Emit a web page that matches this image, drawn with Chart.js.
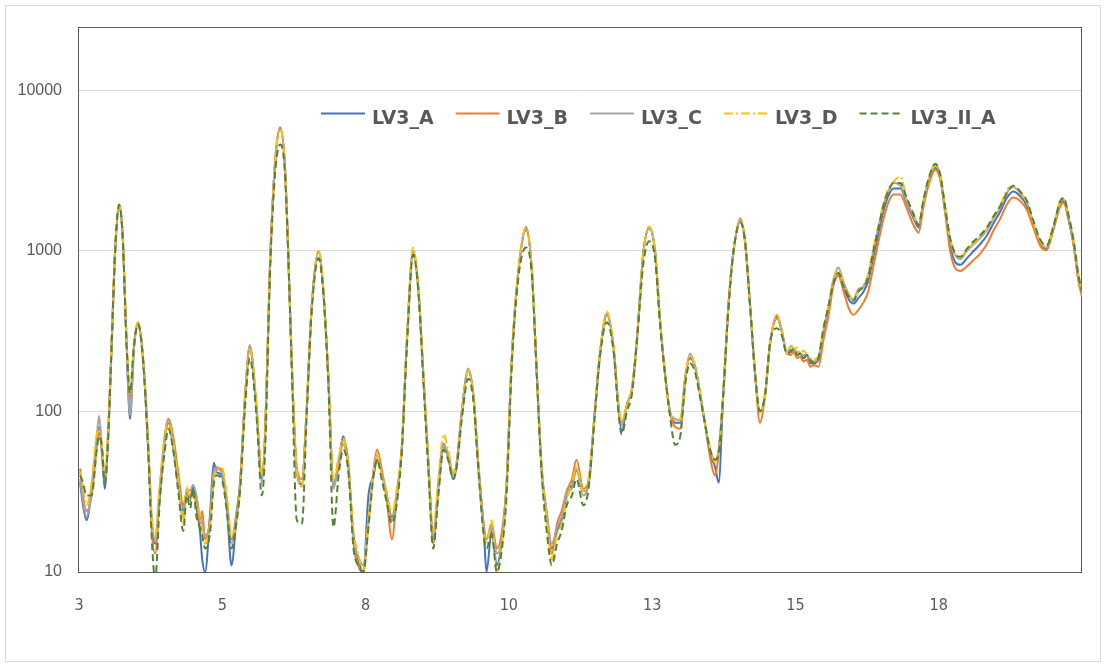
<!DOCTYPE html>
<html>
<head>
<meta charset="utf-8">
<script src="https://cdn.jsdelivr.net/npm/chart.js@4.4.1/dist/chart.umd.min.js"></script>
<style>
  html, body { margin: 0; padding: 0; background: #fff; }
  #frame { position: absolute; left: 5px; top: 5px; width: 1094px; height: 655px; border: 1px solid #d9d9d9; }
  #chart { position: absolute; left: 0; top: 0; }
</style>
</head>
<body>
<div id="frame"></div>
<canvas id="chart" width="1106" height="667"></canvas>
<script>
// 2-theta positions shared by all scans
const xAngle = [
  3.00, 3.05, 3.11, 3.20, 3.29, 3.33, 3.38, 3.43, 3.49, 3.55,
  3.61, 3.68, 3.74, 3.81, 3.87, 3.94, 4.01, 4.10, 4.19, 4.25,
  4.31, 4.39, 4.48, 4.54, 4.63, 4.71, 4.80, 4.86, 4.92, 4.97,
  5.03, 5.09, 5.13, 5.18, 5.27, 5.33, 5.38, 5.47, 5.56, 5.64,
  5.73, 5.79, 5.88, 5.96, 6.08, 6.17, 6.23, 6.31, 6.40, 6.49,
  6.57, 6.63, 6.69, 6.78, 6.87, 6.95, 7.04, 7.16, 7.24, 7.33,
  7.42, 7.51, 7.59, 7.68, 7.77, 7.85, 7.94, 8.03, 8.12, 8.18,
  8.26, 8.35, 8.44, 8.52, 8.61, 8.70, 8.81, 8.90, 8.99, 9.08,
  9.16, 9.25, 9.34, 9.42, 9.51, 9.57, 9.66, 9.77, 9.86, 9.95,
  10.04, 10.09, 10.18, 10.27, 10.36, 10.44, 10.53, 10.65, 10.78, 10.88,
  10.97, 11.05, 11.14, 11.23, 11.32, 11.40, 11.49, 11.58, 11.66, 11.78,
  11.87, 11.98, 12.07, 12.19, 12.31, 12.39, 12.45, 12.54, 12.63, 12.71,
  12.83, 12.93, 13.03, 13.12, 13.21, 13.29, 13.38, 13.47, 13.56, 13.64,
  13.73, 13.82, 13.90, 13.99, 14.08, 14.14, 14.22, 14.31, 14.40, 14.52,
  14.60, 14.69, 14.78, 14.86, 14.95, 15.04, 15.16, 15.24, 15.33, 15.40,
  15.45, 15.51, 15.56, 15.62, 15.68, 15.74, 15.80, 15.88, 15.97, 16.06,
  16.14, 16.23, 16.32, 16.41, 16.49, 16.58, 16.67, 16.75, 16.84, 16.93,
  17.02, 17.10, 17.19, 17.31, 17.42, 17.54, 17.63, 17.71, 17.80, 17.92,
  18.01, 18.09, 18.18, 18.27, 18.36, 18.47, 18.59, 18.70, 18.82, 18.94,
  19.05, 19.17, 19.28, 19.40, 19.52, 19.63, 19.75, 19.86, 19.98, 20.10,
  20.16, 20.24, 20.33, 20.42, 20.48
];

const lv3A = [
  36, 26, 21, 32, 65, 80, 55, 33, 75, 260,
  1000, 1900, 1280, 260, 90, 250, 350, 210, 55, 20,
  15, 30, 68, 85, 58, 35, 24, 32, 28, 34,
  25, 18, 12, 10, 24, 48, 42, 40, 25, 11,
  22, 35, 125, 250, 100, 38, 76, 770, 3500, 5800,
  3500, 1000, 210, 42, 35, 100, 450, 990, 590, 165,
  35, 48, 70, 44, 17, 12, 10, 30, 40, 50,
  42, 30, 22, 30, 58, 270, 1000, 590, 165, 45,
  16, 35, 63, 52, 38, 46, 100, 180, 127, 45,
  19, 10, 18, 11, 16, 35, 210, 770, 1350, 770,
  165, 45, 23, 14, 18, 21, 30, 35, 43, 32,
  35, 100, 230, 400, 245, 110, 75, 110, 140, 270,
  1000, 1380, 1000, 360, 165, 100, 85, 85, 165, 215,
  190, 127, 85, 55, 45, 36, 127, 450, 1000, 1550,
  1150, 450, 165, 100, 127, 270, 390, 320, 230, 240,
  245, 225, 230, 215, 225, 200, 200, 210, 310, 440,
  640, 730, 600, 500, 470, 510, 560, 650, 920, 1300,
  1800, 2200, 2450, 2450, 2000, 1600, 1400, 1950, 2650, 3300,
  2800, 1800, 1080, 850, 820, 900, 1000, 1100, 1250, 1500,
  1750, 2150, 2350, 2200, 1900, 1450, 1120, 1030, 1380, 1950,
  2050, 1600, 1120, 660, 540
];

const lv3B = [
  44, 30, 24, 30, 60, 78, 58, 36, 72, 270,
  1000, 1900, 1300, 280, 120, 260, 360, 210, 60, 18,
  13, 32, 72, 90, 68, 42, 26, 30, 30, 32,
  28, 20, 24, 16, 22, 40, 45, 43, 28, 16,
  24, 36, 130, 255, 105, 40, 78, 770, 3500, 5900,
  3500, 1000, 210, 45, 38, 100, 450, 1000, 590, 165,
  34, 45, 66, 48, 15, 11, 10, 20, 43, 58,
  44, 28, 16, 28, 56, 270, 1000, 590, 165, 45,
  15, 33, 60, 55, 40, 48, 100, 180, 127, 45,
  20, 16, 20, 14, 18, 36, 210, 770, 1400, 770,
  165, 45, 22, 13, 20, 24, 32, 38, 50, 33,
  37, 100, 230, 400, 245, 110, 85, 110, 140, 270,
  1000, 1400, 1000, 360, 165, 100, 80, 78, 165, 220,
  190, 127, 85, 52, 40, 55, 127, 450, 1000, 1550,
  1150, 450, 165, 85, 127, 270, 380, 320, 230, 225,
  235, 215, 220, 205, 210, 190, 195, 190, 280, 400,
  600, 700, 560, 440, 400, 430, 480, 560, 800, 1150,
  1600, 2000, 2250, 2250, 1850, 1450, 1300, 1850, 2550, 3200,
  2750, 1750, 1000, 780, 750, 800, 880, 960, 1100, 1350,
  1580, 1950, 2150, 2050, 1800, 1400, 1080, 1010, 1350, 1900,
  2000, 1600, 1100, 640, 520
];

const lv3C = [
  38, 28, 22, 34, 70, 94, 60, 37, 70, 270,
  980, 1880, 1250, 270, 95, 250, 355, 210, 58, 21,
  16, 34, 70, 88, 60, 36, 22, 33, 32, 35,
  30, 22, 20, 17, 21, 42, 44, 42, 27, 15,
  23, 35, 127, 260, 100, 36, 76, 770, 3500, 5800,
  3500, 1000, 210, 41, 36, 100, 450, 980, 590, 165,
  33, 50, 62, 45, 16, 12.6, 11, 21, 43, 53,
  41, 30, 21, 30, 58, 270, 1000, 590, 165, 45,
  16, 35, 62, 52, 40, 48, 100, 185, 127, 47,
  19, 16, 19, 13, 16, 35, 210, 770, 1420, 770,
  165, 45, 24, 15, 19, 22, 31, 33, 44, 30,
  36, 100, 230, 410, 245, 110, 82, 110, 140, 270,
  1000, 1380, 1000, 360, 165, 100, 90, 88, 165, 230,
  190, 127, 85, 58, 50, 58, 127, 450, 1000, 1600,
  1150, 450, 165, 100, 127, 270, 400, 320, 230, 255,
  245, 235, 230, 225, 225, 210, 205, 215, 320, 460,
  660, 790, 640, 540, 500, 580, 600, 700, 1000, 1420,
  1950, 2350, 2650, 2550, 2050, 1650, 1450, 2000, 2750, 3450,
  2900, 1850, 1150, 940, 890, 1000, 1100, 1200, 1350, 1600,
  1850, 2300, 2500, 2300, 2000, 1500, 1150, 1050, 1400, 2000,
  2100, 1650, 1150, 680, 550
];

const lv3D = [
  42, 34, 26, 36, 72, 75, 62, 40, 80, 280,
  1050, 1950, 1300, 280, 130, 270, 360, 210, 62, 22,
  17, 36, 72, 86, 62, 38, 20, 34, 28, 30,
  26, 23, 18, 15, 20, 38, 43, 45, 30, 17,
  20, 33, 120, 245, 110, 40, 80, 780, 3550, 5700,
  3500, 1000, 210, 44, 34, 100, 450, 1000, 600, 165,
  38, 52, 68, 46, 18, 13, 10, 22, 42, 55,
  40, 32, 23, 32, 60, 280, 1050, 600, 165, 45,
  18, 38, 72, 58, 42, 45, 100, 180, 127, 44,
  18, 15, 21, 10, 15, 34, 210, 780, 1400, 780,
  165, 45, 22, 12, 17, 20, 28, 36, 45, 32,
  38, 100, 230, 420, 245, 110, 88, 110, 140, 270,
  1000, 1420, 1000, 360, 165, 100, 88, 90, 165, 225,
  190, 127, 85, 60, 48, 56, 127, 450, 1000, 1550,
  1150, 450, 165, 100, 127, 270, 400, 320, 230, 260,
  245, 250, 230, 240, 225, 215, 210, 220, 330, 460,
  650, 760, 620, 530, 490, 560, 620, 720, 1050, 1450,
  2000, 2450, 2700, 2900, 2150, 1700, 1450, 2050, 2750, 3400,
  2900, 1900, 1200, 960, 920, 1020, 1120, 1230, 1380, 1650,
  1900, 2400, 2500, 2300, 2000, 1500, 1150, 1060, 1420, 2050,
  2100, 1700, 1180, 700, 570
];

const lv3IIA = [
  40, 36, 30, 30, 58, 70, 60, 36, 70, 260,
  980, 1950, 1250, 260, 130, 260, 350, 200, 55, 16,
  9, 28, 58, 78, 55, 32, 18, 30, 25, 33,
  22, 19, 17, 14, 18, 35, 40, 38, 24, 14,
  21, 32, 110, 215, 90, 30, 60, 680, 3000, 4600,
  3200, 950, 200, 21, 20, 90, 420, 900, 560, 150,
  19, 40, 58, 42, 14, 11, 10, 19, 40, 50,
  38, 27, 20, 26, 55, 250, 950, 560, 150, 40,
  14, 30, 58, 50, 38, 45, 90, 160, 118, 42,
  17, 14, 17, 10, 14, 30, 190, 700, 1050, 720,
  160, 42, 18, 11, 15, 18, 26, 30, 38, 26,
  33, 95, 220, 360, 230, 100, 72, 100, 130, 260,
  850, 1150, 900, 340, 165, 95, 62, 70, 150, 200,
  175, 120, 85, 58, 50, 55, 127, 430, 1000, 1500,
  1150, 450, 165, 100, 127, 270, 330, 300, 230, 235,
  245, 225, 230, 215, 225, 210, 200, 215, 330, 460,
  620, 730, 600, 520, 490, 560, 600, 690, 1000, 1400,
  1950, 2350, 2650, 2650, 2150, 1700, 1450, 2050, 2800, 3500,
  2950, 1900, 1200, 960, 920, 1030, 1150, 1250, 1400, 1650,
  1900, 2300, 2550, 2350, 2050, 1550, 1180, 1080, 1420, 2050,
  2150, 1700, 1180, 700, 560
];

const seriesNames = ["LV3_A", "LV3_B", "LV3_C", "LV3_D", "LV3_II_A"];
const seriesColors = ["#4472C4", "#ED7D31", "#A5A5A5", "#FFC000", "#548235"];
const seriesDash = [[], [], [], [9, 3, 2, 3], [7, 4]];

// axis ticks
const xTickValues = [2.98, 5.48, 7.98, 10.48, 12.98, 15.48, 17.98];
const xTickLabels = ["3", "5", "8", "10", "13", "15", "18"];
const yTickValues = [10, 100, 1000, 10000];

const series = [lv3A, lv3B, lv3C, lv3D, lv3IIA];

const datasets = series.map((vals, i) => ({
  label: seriesNames[i],
  data: vals.map((v, j) => ({ x: xAngle[j], y: v })),
  borderColor: seriesColors[i],
  backgroundColor: seriesColors[i],
  borderWidth: 2,
  borderDash: seriesDash[i],
  pointRadius: 0,
  cubicInterpolationMode: "monotone",
  order: series.length - i // last series on top
}));

// one-row legend drawn inside the plot box
const legendInside = {
  id: "legendInside",
  afterDraw(chart) {
    const { ctx, chartArea: a } = chart;
    let x = a.left + 242;
    const y = a.top + 87;
    ctx.save();
    ctx.font = "bold 19px 'DejaVu Sans'";
    ctx.textBaseline = "alphabetic";
    chart.data.datasets.forEach(ds => {
      ctx.beginPath();
      ctx.setLineDash(ds.borderDash);
      ctx.strokeStyle = ds.borderColor;
      ctx.lineWidth = ds.borderWidth;
      ctx.moveTo(x, y);
      ctx.lineTo(x + 44, y);
      ctx.stroke();
      ctx.setLineDash([]);
      ctx.fillStyle = "#595959";
      ctx.fillText(ds.label, x + 51, y + 10);
      x += 51 + ctx.measureText(ds.label).width + 22;
    });
    ctx.restore();
  }
};

const plotBox = {
  id: "plotBox",
  beforeDatasetsDraw(chart) {
    const { ctx, chartArea: a } = chart;
    ctx.save();
    ctx.strokeStyle = "#595959";
    ctx.lineWidth = 1;
    ctx.strokeRect(Math.round(a.left) - 0.5, Math.round(a.top) + 0.5, Math.round(a.right - a.left), Math.round(a.bottom - a.top));
    ctx.restore();
  }
};

new Chart(document.getElementById("chart"), {
  type: "line",
  data: { datasets },
  plugins: [legendInside, plotBox],
  options: {
    responsive: false,
    animation: false,
    layout: { padding: { left: 0, top: 26, right: 24, bottom: 0 } },
    plugins: {
      tooltip: { enabled: false },
      legend: { display: false }
    },
    scales: {
      x: {
        type: "linear",
        min: 2.98,
        max: 20.48,
        afterBuildTicks: s => { s.ticks = xTickValues.map(v => ({ value: v })); },
        afterFit: s => { s.height = 95; },
        grid: { display: false, drawTicks: false },
        border: { display: false },
        ticks: {
          autoSkip: false,
          maxRotation: 0,
          padding: 24,
          color: "#595959",
          font: { family: "'Liberation Sans Narrow', 'DejaVu Sans Condensed', sans-serif", size: 16 },
          callback: (v, i) => xTickLabels[i]
        }
      },
      y: {
        type: "logarithmic",
        min: 10,
        max: 25000,
        afterBuildTicks: s => { s.ticks = yTickValues.map(v => ({ value: v })); },
        afterFit: s => { s.width = 79; },
        grid: { color: "#d9d9d9", lineWidth: 1, drawTicks: false },
        border: { display: false },
        ticks: {
          padding: 17,
          color: "#595959",
          font: { family: "'Liberation Sans', sans-serif", size: 16 },
          callback: v => String(v)
        }
      }
    }
  }
});
</script>
</body>
</html>
